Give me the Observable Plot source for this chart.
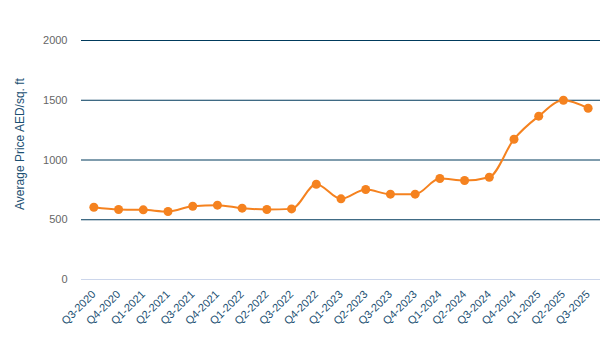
<!DOCTYPE html>
<html><head><meta charset="utf-8">
<script src="https://cdn.jsdelivr.net/npm/d3@7"></script>
<script src="https://cdn.jsdelivr.net/npm/@observablehq/plot@0.6"></script>
<style>body{margin:0;background:#fff;font-family:"Liberation Sans",Arial,sans-serif}</style>
</head><body><div id="chart"></div>
<script>
const quarters = ["Q3-2020","Q4-2020","Q1-2021","Q2-2021","Q3-2021","Q4-2021","Q1-2022","Q2-2022","Q3-2022","Q4-2022","Q1-2023","Q2-2023","Q3-2023","Q4-2023","Q1-2024","Q2-2024","Q3-2024","Q4-2024","Q1-2025","Q2-2025","Q3-2025"];
const prices = [605,586,583,569,613,622,597,586,591,797,675,753,714,714,845,828,856,1174,1367,1500,1433];
const yTicks = [0,500,1000,1500,2000];
const data = quarters.map((q,i)=>({q, v: prices[i]}));

const chart = Plot.plot({
  width: 600, height: 347,
  marginTop: 40, marginBottom: 68, marginLeft: 81, marginRight: 0,
  style: {fontFamily: '"Liberation Sans", Arial, sans-serif', fontSize: "11px", background: "#fff"},
  x: {type: "band", domain: quarters, padding: 0, round: false, label: null},
  y: {domain: [0,2000], label: null},
  marks: [
    Plot.gridY(yTicks.filter(d=>d>0), {stroke: "#003a5c", strokeOpacity: 1, strokeWidth: 1}),
    Plot.ruleY([0], {stroke: "#ccd6eb", strokeWidth: 1}),
    Plot.axisY(yTicks, {tickSize: 0, tickPadding: 14, tickFormat: d => String(d), fill: "#666666", fontSize: 11, label: null}),
    Plot.axisX(quarters, {tickSize: 0, tickPadding: 8, tickRotate: -45, dy: 5, fill: "#1b4f72", fontSize: 11, label: null}),
    Plot.text(["Average Price AED/sq. ft"], {frameAnchor: "left", textAnchor: "middle", rotate: -90, dx: -61, dy: -16, fill: "#1b4f72", fontSize: 12}),
    Plot.line(data, {x: "q", y: "v", stroke: "#f5821f", strokeWidth: 2, curve: "monotone-x"}),
    Plot.dot(data, {x: "q", y: "v", fill: "#f5821f", r: 4.5, stroke: "none"})
  ]
});
document.getElementById("chart").append(chart);
</script></body></html>
